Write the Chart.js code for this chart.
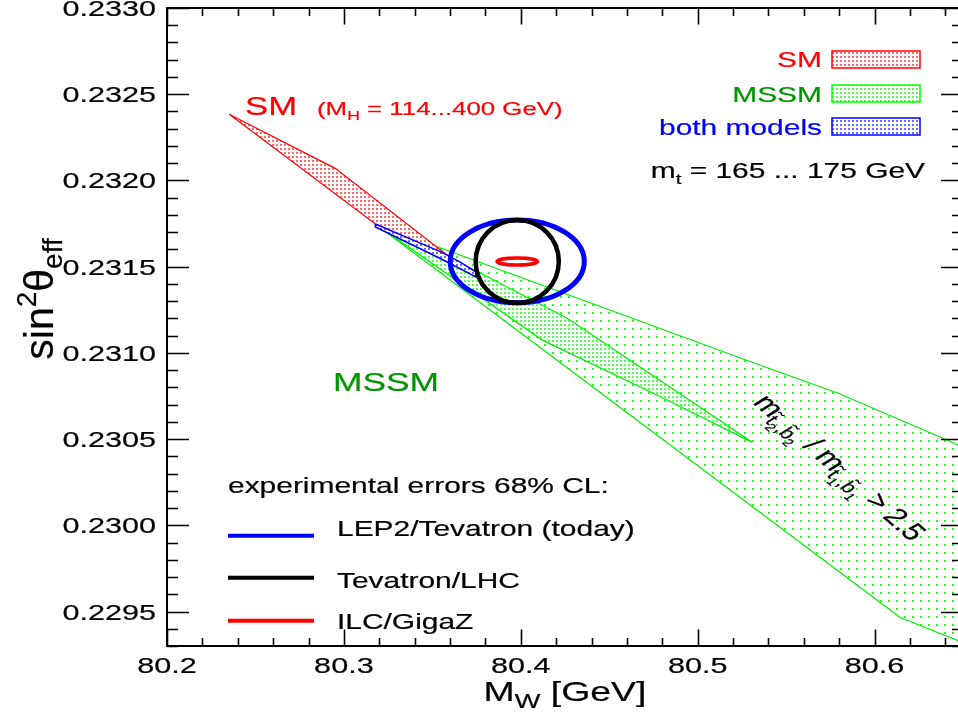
<!DOCTYPE html>
<html>
<head>
<meta charset="utf-8">
<script src="https://cdn.jsdelivr.net/npm/chart.js@4.4.1/dist/chart.umd.min.js"></script>
<style>
    html, body { margin: 0; padding: 0; background: #fff; overflow: hidden; }
    #wrap { width: 966px; height: 718px; }
</style>
</head>
<body>
<div id="wrap"><canvas id="chart" width="966" height="718"></canvas></div>
<script>
// --- axes ---
const xRange = [80.2, 80.65];
const yRange = [0.2293, 0.2330];
const xTickLabels = [80.2, 80.3, 80.4, 80.5, 80.6];
const yTickLabels = [0.2295, 0.2300, 0.2305, 0.2310, 0.2315, 0.2320, 0.2325, 0.2330];
const xMinorStep = 0.02;
const yMinorStep = 0.0001;

// --- bands (M_W, sin^2 theta_eff) ---
const smMW = [80.2354, 80.2951, 80.3613, 80.3178, 80.2354];
const smSW = [0.232382, 0.232070, 0.231544, 0.231747, 0.232382];

const bothMW = [80.3178, 80.3545, 80.3658, 80.3748, 80.3743, 80.3545, 80.3178, 80.3178];
const bothSW = [0.231747, 0.231587, 0.231526, 0.231468, 0.231442, 0.231547, 0.231730, 0.231747];

const mssmMW = [80.3178, 80.3771, 80.4263, 80.5309, 80.4749, 80.4122, 80.3178];
const mssmSW = [0.231747, 0.231463, 0.231201, 0.230481, 0.230766, 0.231074, 0.231747];

// MSSM with m(t2,b2)/m(t1,b1) > 2.5
const ratioMW = [80.3178, 80.5354, 80.5795, 80.6400, 80.6500, 80.6500, 80.6145, 80.3178];
const ratioSW = [0.231747, 0.230928, 0.230766, 0.230499, 0.230452, 0.229320, 0.229465, 0.231747];

// --- experimental errors (68% CL ellipses) ---
const expNames = ['LEP2/Tevatron (today)', 'Tevatron/LHC', 'ILC/GigaZ'];
const expCenterMW = 80.398;
const expCenterSW = 0.23153;
const expErrMW = [0.0379, 0.0235, 0.0114];
const expErrSW = [0.000240, 0.000241, 0.0000203];
const expColors = ['#0000ff', '#000000', '#ff0000'];

const SX = 1.36; // the original is stretched sideways
const FONT = '"Liberation Sans", Arial, Helvetica, sans-serif';
const GREEN_TXT = '#009600';

function dotPattern(color, size, dot, stagger) {
    const c = document.createElement('canvas');
    c.width = size; c.height = size;
    const g = c.getContext('2d');
    g.fillStyle = '#ffffff';
    g.fillRect(0, 0, size, size);
    g.fillStyle = color;
    g.fillRect(0, 0, dot, dot);
    if (stagger) g.fillRect(size / 2, size / 2, dot, dot);
    return g.createPattern(c, 'repeat');
}

const patRed = dotPattern('#ff6a6a', 4, 2, false);
const patGreen = dotPattern('#55ff55', 4, 2, false);
const patBlue = dotPattern('#6a6aff', 4, 2, false);
const patLight = dotPattern('#22ff22', 8, 2, false);

function pts(xs, ys) {
    return xs.map((x, i) => ({ x: x, y: ys[i] }));
}

// rich text: parts = [{t, s, dy, tilde}]
function drawRich(ctx, parts, x, y, opt) {
    ctx.save();
    ctx.fillStyle = opt.color || '#000';
    ctx.strokeStyle = opt.color || '#000';
    ctx.lineWidth = 0.2;
    ctx.textBaseline = 'alphabetic';
    ctx.textAlign = 'left';
    let w = 0;
    parts.forEach(p => {
        ctx.font = p.s + 'px ' + FONT;
        p.w = ctx.measureText(p.t).width;
        w += p.w;
    });
    ctx.translate(x, y);
    if (opt.vertical) {
        ctx.rotate(-Math.PI / 2);
        ctx.scale(1, opt.cross || 1);
    } else {
        ctx.scale(SX, 1);
        if (opt.rot) ctx.rotate(opt.rot);
    }
    let cx = opt.align === 'right' ? -w : (opt.align === 'center' ? -w / 2 : 0);
    parts.forEach(p => {
        ctx.font = p.s + 'px ' + FONT;
        ctx.fillText(p.t, cx, p.dy || 0);
        ctx.strokeText(p.t, cx, p.dy || 0);
        if (p.tilde) {
            ctx.textAlign = 'center';
            ctx.fillText('\u02DC', cx + p.w / 2, (p.dy || 0) - p.s * 0.22);
            ctx.textAlign = 'left';
        }
        cx += p.w;
    });
    ctx.restore();
}

const decorations = {
    id: 'decorations',
    afterDatasetsDraw(chart) {
        const ctx = chart.ctx;
        const xs = chart.scales.x, ys = chart.scales.y;
        const a = chart.chartArea;

        // ellipses
        const cx = xs.getPixelForValue(expCenterMW);
        const cy = ys.getPixelForValue(expCenterSW);
        const widths = [5, 4.5, 3.5];
        expErrMW.forEach((e, i) => {
            const rx = xs.getPixelForValue(expCenterMW + e) - cx;
            const ry = cy - ys.getPixelForValue(expCenterSW + expErrSW[i]);
            ctx.save();
            ctx.beginPath();
            ctx.ellipse(cx, cy, rx, ry, 0, 0, Math.PI * 2);
            ctx.strokeStyle = expColors[i];
            ctx.lineWidth = widths[i];
            ctx.stroke();
            ctx.restore();
        });

        // frame
        ctx.save();
        ctx.strokeStyle = '#000';
        ctx.lineWidth = 2;
        ctx.strokeRect(a.left, a.top, a.right - a.left, a.bottom - a.top);

        // ticks (inward, on all four sides)
        ctx.lineWidth = 1.6;
        ctx.beginPath();
        for (let v = xRange[0]; v <= xRange[1] + 1e-9; v += xMinorStep) {
            const major = Math.abs(v * 10 - Math.round(v * 10)) < 1e-6;
            const len = major ? 16.5 : 8;
            const px = Math.round(xs.getPixelForValue(v)) + 0.5;
            ctx.moveTo(px, a.bottom); ctx.lineTo(px, a.bottom - len);
            ctx.moveTo(px, a.top); ctx.lineTo(px, a.top + len);
        }
        for (let v = yRange[0]; v <= yRange[1] + 1e-9; v += yMinorStep) {
            const major = Math.abs(v * 2000 - Math.round(v * 2000)) < 1e-4;
            const len = major ? 22 : 11;
            const py = Math.round(ys.getPixelForValue(v)) + 0.5;
            ctx.moveTo(a.left, py); ctx.lineTo(a.left + len, py);
            ctx.moveTo(a.right, py); ctx.lineTo(a.right - len, py);
        }
        ctx.stroke();
        ctx.restore();

        // tick labels
        yTickLabels.forEach(v => {
            drawRich(ctx, [{ t: v.toFixed(4), s: 22.5 }], 156, ys.getPixelForValue(v) + 8, { align: 'right' });
        });
        xTickLabels.forEach(v => {
            drawRich(ctx, [{ t: v.toFixed(1), s: 22.5 }], xs.getPixelForValue(v), 672.5, { align: 'center' });
        });

        // axis titles
        drawRich(ctx, [{ t: 'M', s: 27.5 }, { t: 'W', s: 20, dy: 7 }, { t: ' [GeV]', s: 27.5 }],
            (a.left + a.right) / 2, 701, { align: 'center' });
        drawRich(ctx, [{ t: 'sin', s: 41 }, { t: '2', s: 28, dy: -17 }, { t: '\u03B8', s: 41 }, { t: 'eff', s: 28, dy: 9 }],
            53, 299, { align: 'center', vertical: true, cross: 1.0 });

        // labels in the plot
        drawRich(ctx, [{ t: 'SM', s: 25.5 }], 245, 115, { color: '#ff0000' });
        drawRich(ctx, [{ t: '(M', s: 19 }, { t: 'H', s: 13, dy: 5 }, { t: ' = 114...400 GeV)', s: 19 }],
            317, 115, { color: '#ff0000' });
        drawRich(ctx, [{ t: 'MSSM', s: 26 }], 333, 391, { color: GREEN_TXT });

        // legend, top right
        const boxes = [
            { label: 'SM', color: '#ff0000', txt: '#ff0000', pat: patRed, y: 51, base: 67 },
            { label: 'MSSM', color: '#00ff00', txt: GREEN_TXT, pat: patGreen, y: 85, base: 102 },
            { label: 'both models', color: '#0000ff', txt: '#0000ff', pat: patBlue, y: 118, base: 135 }
        ];
        boxes.forEach(b => {
            ctx.save();
            ctx.fillStyle = b.pat;
            ctx.fillRect(832, b.y, 88, 17);
            ctx.strokeStyle = b.color;
            ctx.lineWidth = 1.5;
            ctx.strokeRect(832, b.y, 88, 17);
            ctx.restore();
            drawRich(ctx, [{ t: b.label, s: 22 }], 822, b.base, { align: 'right', color: b.txt });
        });
        drawRich(ctx, [{ t: 'm', s: 22 }, { t: 't', s: 15, dy: 6 }, { t: ' = 165 ... 175 GeV', s: 22 }],
            925, 178, { align: 'right' });

        // legend, bottom left
        drawRich(ctx, [{ t: 'experimental errors 68% CL:', s: 22 }], 228, 493, {});
        const lineY = [535.7, 577.7, 620.7];
        const textY = [536, 587.5, 628.5];
        expNames.forEach((n, i) => {
            ctx.save();
            ctx.strokeStyle = expColors[i];
            ctx.lineWidth = 4;
            ctx.beginPath();
            ctx.moveTo(228, lineY[i]);
            ctx.lineTo(314, lineY[i]);
            ctx.stroke();
            ctx.restore();
            drawRich(ctx, [{ t: n, s: 22 }], 337, textY[i], {});
        });

        // rotated ratio label
        drawRich(ctx, [
            { t: 'm', s: 24 }, { t: 't', s: 16.5, dy: 5, tilde: true }, { t: '2', s: 11, dy: 9 },
            { t: ',', s: 16.5, dy: 5 }, { t: 'b', s: 16.5, dy: 5, tilde: true }, { t: '2', s: 11, dy: 9 },
            { t: ' / m', s: 24 }, { t: 't', s: 16.5, dy: 5, tilde: true }, { t: '1', s: 11, dy: 9 },
            { t: ',', s: 16.5, dy: 5 }, { t: 'b', s: 16.5, dy: 5, tilde: true }, { t: '1', s: 11, dy: 9 },
            { t: ' > 2.5', s: 24 }
        ], 752, 403, { rot: 50 * Math.PI / 180 });
    }
};

const ctx = document.getElementById('chart').getContext('2d');
new Chart(ctx, {
    type: 'line',
    data: {
        datasets: [
            { label: 'both models', data: pts(bothMW, bothSW), borderColor: '#0000ff', borderWidth: 1.5,
              backgroundColor: patBlue, fill: 'shape' },
            { label: 'SM', data: pts(smMW, smSW), borderColor: '#ff0000', borderWidth: 1.2,
              backgroundColor: patRed, fill: 'shape' },
            { label: 'MSSM', data: pts(mssmMW, mssmSW), borderColor: '#00ee00', borderWidth: 1.2,
              backgroundColor: patGreen, fill: 'shape' },
            { label: 'MSSM ratio > 2.5', data: pts(ratioMW, ratioSW), borderColor: '#00ee00', borderWidth: 1.2,
              backgroundColor: patLight, fill: 'shape' }
        ]
    },
    options: {
        responsive: false,
        animation: false,
        layout: { padding: { left: 167, top: 8, right: 3, bottom: 72 } },
        elements: { point: { radius: 0 }, line: { tension: 0 } },
        scales: {
            x: { type: 'linear', min: xRange[0], max: xRange[1], display: false },
            y: { type: 'linear', min: yRange[0], max: yRange[1], display: false }
        },
        plugins: {
            legend: { display: false },
            tooltip: { enabled: false }
        }
    },
    plugins: [decorations]
});
</script>
</body>
</html>
